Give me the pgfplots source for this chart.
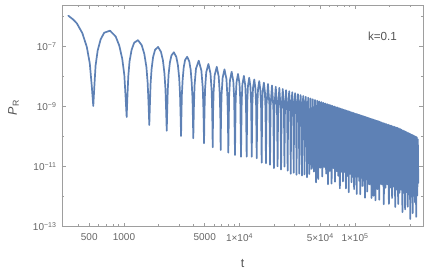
\documentclass[border=0pt]{standalone}
\usepackage{fontspec}
\setmainfont{Liberation Sans}
\usepackage{pgfplots}
\pgfplotsset{compat=1.18}
\definecolor{mblue}{rgb}{0.368,0.507,0.710}
\definecolor{framegray}{gray}{0.62}
\definecolor{labgray}{gray}{0.4}
\definecolor{txtgray}{gray}{0.33}
\begin{document}
\begin{tikzpicture}
\begin{axis}[
 scale only axis, width=361.3pt, height=221.7pt,
 xmin=2.4632, xmax=5.5913, ymin=-13, ymax=-5.61,
 axis line style={framegray, line width=0.6pt},
 tick style={framegray, line width=0.6pt},
 major tick length=4pt, minor tick length=2.5pt,
 xtick={2.69897,3,3.69897,4,4.69897,5},
 xticklabels={500,1000,5000,1×10\textsuperscript{4},5×10\textsuperscript{4},1×10\textsuperscript{5}},
 minor xtick={2.60206,2.77815,2.84510,2.90309,2.95424,3.30103,3.47712,3.60206,3.77815,3.84510,3.90309,3.95424,4.30103,4.47712,4.60206,4.77815,4.84510,4.90309,4.95424,5.30103,5.47712},
 ytick={-13,-11,-9,-7},
 yticklabels={10\textsuperscript{−13},10\textsuperscript{−11},10\textsuperscript{−9},10\textsuperscript{−7}},
 minor ytick={-12,-10,-8,-6},
 tick label style={font=\fontsize{10}{12}\selectfont, text=labgray},
 xticklabel style={yshift=-3pt},
 yticklabel style={xshift=-2pt},
 xlabel={t}, ylabel={\textit{P}\textsubscript{R}},
 label style={font=\fontsize{12.5}{14}\selectfont, text=txtgray},
 xlabel style={at={(axis description cs:0.5,-0.164)}, anchor=center},
 ylabel style={at={(axis description cs:-0.134,0.538)}, anchor=center},
]
\addplot[mblue, line width=1.7pt, line join=round, line cap=round] coordinates {
(2.518,-5.967) (2.561,-6.097) (2.592,-6.223) (2.639,-6.545) (2.678,-7.007) (2.704,-7.562) (2.721,-8.314) (2.734,-8.977)
(2.743,-8.343) (2.754,-7.627) (2.772,-7.129) (2.798,-6.752) (2.829,-6.532) (2.879,-6.467) (2.928,-6.660) (2.959,-6.962) (2.985,-7.406) (3.003,-7.951) (3.014,-8.695) (3.023,-9.343)
(3.029,-8.715) (3.037,-7.995) (3.048,-7.488) (3.066,-7.101) (3.088,-6.868) (3.121,-6.781) (3.154,-6.954) (3.176,-7.244) (3.194,-7.678) (3.205,-8.214) (3.213,-8.954) (3.219,-9.610)
(3.224,-8.968) (3.230,-8.246) (3.239,-7.737) (3.252,-7.343) (3.269,-7.104) (3.295,-7.008) (3.320,-7.170) (3.337,-7.453) (3.350,-7.881) (3.359,-8.414) (3.365,-9.152) (3.370,-9.800)
(3.374,-9.164) (3.379,-8.440) (3.386,-7.928) (3.397,-7.532) (3.411,-7.289) (3.432,-7.186) (3.453,-7.343) (3.467,-7.623) (3.478,-8.048) (3.485,-8.578) (3.490,-9.314) (3.494,-9.977)
(3.497,-9.324) (3.501,-8.599) (3.508,-8.087) (3.517,-7.688) (3.529,-7.442) (3.547,-7.336) (3.565,-7.489) (3.577,-7.766) (3.586,-8.188) (3.593,-8.718) (3.597,-9.454) (3.600,-10.053)
(3.605,-9.023) (3.611,-8.287) (3.623,-7.736) (3.647,-7.466) (3.670,-7.797) (3.682,-8.379) (3.688,-9.131) (3.693,-10.220)
(3.697,-9.143) (3.702,-8.405) (3.712,-7.851) (3.731,-7.575) (3.749,-7.899) (3.759,-8.479) (3.764,-9.230) (3.768,-10.353)
(3.771,-9.239) (3.776,-8.502) (3.785,-7.946) (3.803,-7.669) (3.820,-7.992) (3.829,-8.571) (3.834,-9.321) (3.837,-10.443)
(3.840,-9.329) (3.845,-8.591) (3.854,-8.036) (3.870,-7.756) (3.887,-8.079) (3.895,-8.656) (3.900,-9.407) (3.903,-10.533)
(3.910,-8.676) (3.9175,-8.119) (3.932,-7.837) (3.9465,-8.156) (3.954,-8.733) (3.961,-10.610)
(3.967,-8.750) (3.974,-8.192) (3.987,-7.908) (4.000,-8.226) (4.007,-8.802) (4.013,-10.667)
(4.019,-8.818) (4.025,-8.259) (4.038,-7.974) (4.050,-8.291) (4.056,-8.866) (4.062,-10.667)
(4.067,-8.880) (4.073,-8.321) (4.084,-8.034) (4.095,-8.350) (4.101,-8.924) (4.106,-10.667)
(4.111,-8.937) (4.117,-8.378) (4.128,-8.092) (4.138,-8.406) (4.144,-8.980) (4.149,-10.720)
(4.154,-8.993) (4.160,-8.434) (4.171,-8.147) (4.181,-8.462) (4.187,-9.036) (4.192,-10.867)
(4.196,-9.048) (4.201,-8.488) (4.211,-8.200) (4.220,-8.512) (4.225,-9.086) (4.229,-10.887)
(4.2343,-8.916) (4.2467,-8.246) (4.2590,-8.948) (4.2643,-10.936)
(4.2693,-8.961) (4.2811,-8.291) (4.2928,-8.992) (4.2978,-11.045)
(4.3026,-9.005) (4.3138,-8.333) (4.3249,-9.034) (4.3297,-10.987)
(4.3343,-9.046) (4.3449,-8.374) (4.3555,-9.074) (4.3601,-11.094)
(4.3645,-9.085) (4.3746,-8.412) (4.3847,-9.112) (4.3891,-10.998)
(4.3933,-9.123) (4.4030,-8.449) (4.4127,-9.148) (4.4169,-11.134)
(4.4209,-9.159) (4.4303,-8.485) (4.4396,-9.183) (4.4436,-11.235)
(4.4474,-9.193) (4.4564,-8.519) (4.4654,-9.217) (4.4692,-11.202)
(4.4729,-9.226) (4.4815,-8.551) (4.4901,-9.249) (4.4938,-11.267)
(4.4974,-9.258) (4.5057,-8.583) (4.5139,-9.280) (4.5175,-11.231)
(4.5209,-9.289) (4.5290,-8.613) (4.5370,-9.310) (4.5404,-11.295)
(4.5437,-9.318) (4.5515,-8.643) (4.5592,-9.339) (4.5625,-11.257)
(4.5657,-9.347) (4.5732,-8.671) (4.5807,-9.367) (4.5839,-11.352)
(4.5943,-8.698) (4.6046,-11.245) (4.6147,-8.725) (4.6247,-11.071)
(4.6345,-8.751) (4.6442,-11.163) (4.6537,-8.776) (4.6631,-11.521)
(4.6723,-8.800) (4.6815,-11.412) (4.6905,-8.823) (4.6994,-11.035)
(4.7081,-8.846) (4.7168,-11.325) (4.7253,-8.869) (4.7337,-11.013)
(4.7420,-8.890) (4.7502,-11.234) (4.7583,-8.912) (4.7663,-11.589)
(4.7742,-8.932) (4.7820,-11.142) (4.7897,-8.952) (4.7973,-11.562)
(4.8048,-8.972) (4.8123,-11.049) (4.8197,-8.991) (4.8270,-11.501)
(4.8342,-9.010) (4.8413,-11.153) (4.8483,-9.029) (4.8553,-11.305)
(4.8622,-9.047) (4.8690,-11.723) (4.8757,-9.064) (4.8824,-11.173)
(4.8890,-9.082) (4.8956,-11.490) (4.9021,-9.099) (4.9085,-11.174)
(4.9149,-9.115) (4.9212,-11.724) (4.9274,-9.132) (4.9336,-11.307)
(4.9397,-9.148) (4.9458,-11.856) (4.9518,-9.163) (4.9578,-11.238)
(4.9637,-9.179) (4.9695,-11.519) (4.9753,-9.194) (4.9810,-11.334)
(4.9867,-9.209) (4.9923,-11.749) (4.9979,-9.223) (5.0034,-11.330)
(5.0089,-9.238) (5.0144,-11.912) (5.0198,-9.252) (5.0252,-11.326)
(5.0305,-9.266) (5.0358,-11.473) (5.0410,-9.279) (5.0462,-11.919)
(5.0514,-9.293) (5.0565,-11.367) (5.0616,-9.306) (5.0666,-11.646)
(5.0716,-9.319) (5.0766,-11.459) (5.0815,-9.332) (5.0864,-12.038)
(5.0912,-9.345) (5.0960,-11.418) (5.1008,-9.357) (5.1055,-11.830)
(5.1102,-9.369) (5.1149,-11.476) (5.1195,-9.382) (5.1241,-11.588)
(5.1287,-9.393) (5.1333,-11.532) (5.1378,-9.405) (5.1422,-12.044)
(5.1467,-9.417) (5.1511,-11.556) (5.1555,-9.428) (5.1599,-11.967)
(5.1642,-9.440) (5.1685,-11.512) (5.1728,-9.451) (5.1770,-12.123)
(5.1812,-9.462) (5.1854,-11.567) (5.1896,-9.473) (5.1937,-11.745)
(5.1978,-9.483) (5.2019,-11.556) (5.2060,-9.494) (5.2100,-12.099)
(5.2140,-9.504) (5.2180,-11.577)
(5.2259,-9.520) (5.2338,-11.597) (5.2415,-9.540) (5.2492,-12.250)
(5.2568,-9.560) (5.2643,-11.703) (5.2717,-9.580) (5.2790,-11.589)
(5.2862,-9.598) (5.2934,-12.241) (5.3005,-9.617) (5.3075,-11.693)
(5.3144,-9.635) (5.3213,-12.044) (5.3281,-9.653) (5.3348,-11.662)
(5.3414,-9.670) (5.3480,-12.346) (5.3545,-9.687) (5.3610,-11.763)
(5.3674,-9.704) (5.3737,-12.245) (5.3800,-9.725) (5.3862,-11.869)
(5.3923,-9.748) (5.3984,-11.759) (5.4044,-9.771) (5.4104,-12.515)
(5.4163,-9.794) (5.4222,-11.871) (5.4280,-9.815) (5.4338,-12.426)
(5.4395,-9.837) (5.4452,-11.847) (5.4508,-9.859) (5.4564,-12.336)
(5.4619,-9.879) (5.4674,-11.922) (5.4728,-9.899) (5.4782,-12.742)
(5.4835,-9.919) (5.4888,-11.997) (5.4941,-9.940) (5.4993,-12.550)
(5.5045,-9.959) (5.5096,-11.969) (5.5147,-9.979) (5.5197,-12.187)
(5.5247,-9.997) (5.5297,-12.673) (5.5346,-10.016) (5.5395,-11.958)
(5.5440,-10.090) (5.5480,-11.543)
};
\node[text=txtgray, font=\fontsize{11.7}{14}\selectfont] at (axis description cs:0.887,0.858) {k=0.1};
\end{axis}
\pgfresetboundingbox
\path ([xshift=-62pt,yshift=-47.3pt]current axis.south west) rectangle ([xshift=7.7pt,yshift=5pt]current axis.north east);
\end{tikzpicture}
\end{document}
